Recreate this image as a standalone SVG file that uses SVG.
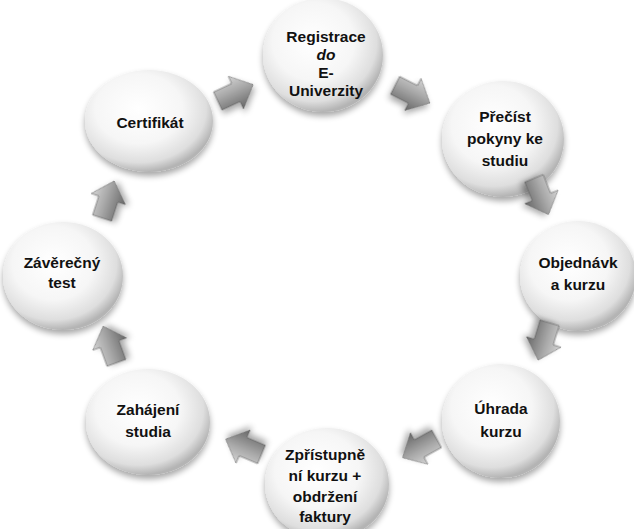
<svg xmlns="http://www.w3.org/2000/svg" width="634" height="529" viewBox="0 0 634 529">
<defs>
<radialGradient id="ball" cx="0.42" cy="0.38" r="0.62">
<stop offset="0" stop-color="#ffffff"/>
<stop offset="0.55" stop-color="#f6f6f6"/>
<stop offset="0.85" stop-color="#dedede"/>
<stop offset="1" stop-color="#b4b4b4"/>
</radialGradient>
<linearGradient id="arrg" x1="0" y1="0" x2="0" y2="1">
<stop offset="0" stop-color="#d4d4d4"/>
<stop offset="0.45" stop-color="#a6a6a6"/>
<stop offset="1" stop-color="#666666"/>
</linearGradient>
<filter id="sh" x="-20%" y="-20%" width="140%" height="150%">
<feGaussianBlur in="SourceAlpha" stdDeviation="3"/>
<feOffset dx="0" dy="4" result="b"/>
<feComponentTransfer><feFuncA type="linear" slope="0.35"/></feComponentTransfer>
<feMerge><feMergeNode/><feMergeNode in="SourceGraphic"/></feMerge>
</filter>
<path id="arr" d="M-19,-10 L1,-10 L1,-18 L20,0 L1,18 L1,10 L-19,10 Z"/>
</defs>
<style>
.node ellipse{fill:url(#ball);filter:url(#sh)}
.node text{font-family:"Liberation Sans",Arial,sans-serif;font-weight:bold;font-size:15.5px;fill:#111;text-anchor:middle}
.conn use{fill:url(#arrg);stroke:#5a5a5a;stroke-width:0.6;filter:url(#sh)}
</style>
<rect width="634" height="529" fill="#ffffff"/>
<g id="n1" class="node">
<ellipse cx="323" cy="55" rx="60" ry="57"/>
<text x="326" y="42">Registrace</text>
<text x="326" y="60" font-style="italic">do</text>
<text x="326" y="78">E-</text>
<text x="326" y="96">Univerzity</text>
</g>
<g id="n2" class="node">
<ellipse cx="503" cy="139" rx="61" ry="58"/>
<text x="505" y="122">Přečíst</text>
<text x="505" y="144">pokyny ke</text>
<text x="505" y="166">studiu</text>
</g>
<g id="n3" class="node">
<ellipse cx="578" cy="276" rx="58" ry="55"/>
<text x="578" y="268">Objednávk</text>
<text x="578" y="290">a kurzu</text>
</g>
<g id="n4" class="node">
<ellipse cx="501" cy="421" rx="59" ry="57"/>
<text x="501" y="414">Úhrada</text>
<text x="501" y="437">kurzu</text>
</g>
<g id="n5" class="node">
<ellipse cx="327" cy="484" rx="62" ry="56"/>
<text x="325" y="460">Zpřístupně</text>
<text x="325" y="481">ní kurzu +</text>
<text x="325" y="502">obdržení</text>
<text x="325" y="522">faktury</text>
</g>
<g id="n6" class="node">
<ellipse cx="148" cy="422" rx="62" ry="53"/>
<text x="148" y="415">Zahájení</text>
<text x="148" y="437">studia</text>
</g>
<g id="n7" class="node">
<ellipse cx="63" cy="276" rx="60" ry="54"/>
<text x="62" y="268">Závěrečný</text>
<text x="62" y="288">test</text>
</g>
<g id="n8" class="node">
<ellipse cx="149" cy="121" rx="64" ry="51"/>
<text x="150" y="128">Certifikát</text>
</g>
<g id="connectors" class="conn">
<use href="#arr" transform="translate(235,93) rotate(-25)"/>
<use href="#arr" transform="translate(412,94) rotate(27)"/>
<use href="#arr" transform="translate(541,196) rotate(68)"/>
<use href="#arr" transform="translate(544,341) rotate(107)"/>
<use href="#arr" transform="translate(420,448) rotate(151)"/>
<use href="#arr" transform="translate(244,447) rotate(203)"/>
<use href="#arr" transform="translate(110,345) rotate(250)"/>
<use href="#arr" transform="translate(108,200) rotate(-72)"/>
</g>
</svg>
